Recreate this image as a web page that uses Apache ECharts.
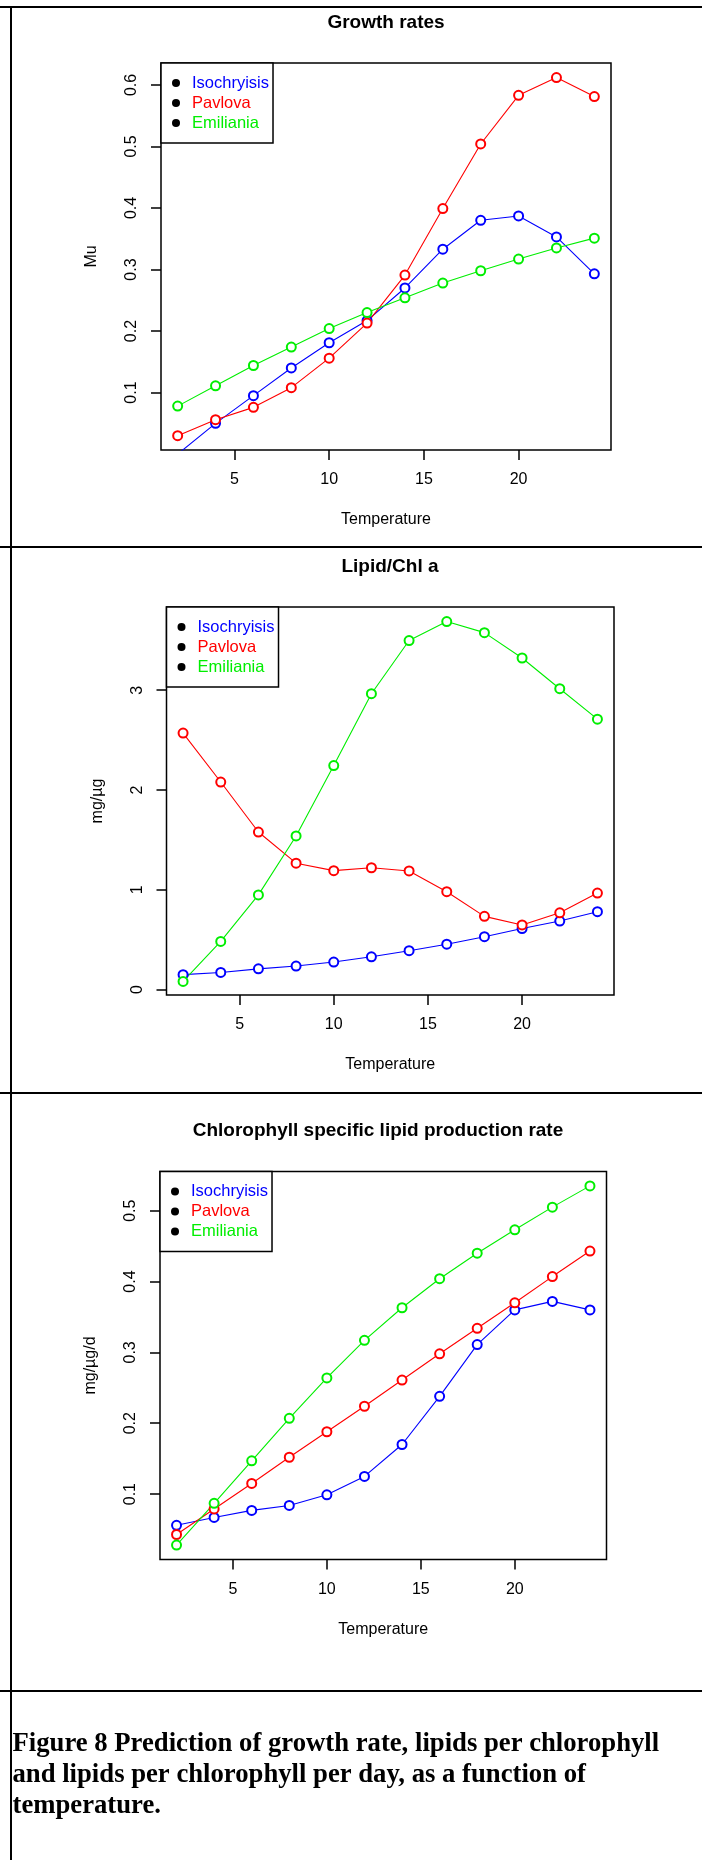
<!DOCTYPE html>
<html>
<head>
<meta charset="utf-8">
<script src="https://cdn.jsdelivr.net/npm/echarts@6/dist/echarts.min.js"></script>
<style>
  body { margin: 0; background: #fff; }
  #chart { width: 702px; height: 1860px; }
</style>
</head>
<body>
<div id="chart"></div>
<script>
// temperatures (x) shared by all three panels
var temperature = [2, 4, 6, 8, 10, 12, 14, 16, 18, 20, 22, 24];
var speciesNames = ['Isochryisis', 'Pavlova', 'Emiliania'];
var speciesColors = ['#0000ff', '#ff0000', '#00ee00'];

// panel 1 : growth rates (Mu)
var growthIso = [0.000, 0.050, 0.095, 0.140, 0.181, 0.217, 0.270, 0.333, 0.380, 0.387, 0.353, 0.293];
var growthPav = [0.030, 0.056, 0.076, 0.108, 0.156, 0.213, 0.291, 0.399, 0.504, 0.583, 0.612, 0.581];
var growthEmi = [0.078, 0.111, 0.144, 0.174, 0.204, 0.230, 0.254, 0.278, 0.298, 0.317, 0.335, 0.351];

// panel 2 : lipid / chl a (mg/µg)
var lipidIso = [0.150, 0.172, 0.208, 0.236, 0.276, 0.329, 0.390, 0.455, 0.530, 0.612, 0.687, 0.781];
var lipidPav = [2.571, 2.080, 1.579, 1.267, 1.192, 1.221, 1.189, 0.981, 0.734, 0.648, 0.770, 0.967];
var lipidEmi = [0.082, 0.483, 0.949, 1.540, 2.245, 2.965, 3.498, 3.688, 3.577, 3.323, 3.015, 2.710];

// panel 3 : chlorophyll specific lipid production (mg/µg/d)
var prodIso = [0.056, 0.067, 0.077, 0.084, 0.099, 0.125, 0.170, 0.238, 0.311, 0.360, 0.372, 0.360];
var prodPav = [0.043, 0.079, 0.115, 0.152, 0.188, 0.224, 0.261, 0.298, 0.334, 0.370, 0.407, 0.443];
var prodEmi = [0.028, 0.087, 0.147, 0.207, 0.264, 0.317, 0.363, 0.404, 0.440, 0.473, 0.505, 0.535];

// tick labels
var xTicks = [5, 10, 15, 20];
var growthTicks = [0.1, 0.2, 0.3, 0.4, 0.5, 0.6];
var lipidTicks = [0, 1, 2, 3];
var prodTicks = [0.1, 0.2, 0.3, 0.4, 0.5];

var panels = [
    { title: 'Growth rates', yName: 'Mu', ticks: growthTicks, ymin: 0.0067, ymax: 0.6356,
      series: [growthIso, growthPav, growthEmi],
      grid: { left: 161, top: 63, width: 450, height: 387 }, titleX: 386, titleY: 23 },
    { title: 'Lipid/Chl a', yName: 'mg/\u00b5g', ticks: lipidTicks, ymin: -0.054, ymax: 3.834,
      series: [lipidIso, lipidPav, lipidEmi],
      grid: { left: 166.5, top: 607, width: 447.5, height: 388 }, titleX: 390, titleY: 567 },
    { title: 'Chlorophyll specific lipid production rate', yName: 'mg/\u00b5g/d', ticks: prodTicks, ymin: 0.0077, ymax: 0.5553,
      series: [prodIso, prodPav, prodEmi],
      grid: { left: 160, top: 1171.5, width: 446.5, height: 388 }, titleX: 378, titleY: 1131 }
];

var FONT = '"Liberation Sans", Arial, sans-serif';
var grids = [], xAxes = [], yAxes = [], legends = [], series = [], graphics = [];

panels.forEach(function (p, k) {
    grids.push({
        left: p.grid.left, top: p.grid.top, width: p.grid.width, height: p.grid.height,
        show: true, borderColor: '#000', borderWidth: 1.5, backgroundColor: 'transparent',
        containLabel: false, outerBoundsMode: 'none'
    });
    xAxes.push({
        gridIndex: k, type: 'value', min: 1.12, max: 24.88,
        axisLine: { show: false, onZero: false },
        axisTick: { show: true, customValues: xTicks, length: 10, lineStyle: { color: '#000', width: 1.5 } },
        axisLabel: { customValues: xTicks, margin: 22, fontSize: 16, color: '#000', fontFamily: FONT },
        splitLine: { show: false },
        name: 'Temperature', nameLocation: 'middle', nameGap: 62,
        nameTextStyle: { fontSize: 16, color: '#000', fontFamily: FONT }
    });
    yAxes.push({
        gridIndex: k, type: 'value', min: p.ymin, max: p.ymax,
        axisLine: { show: false, onZero: false },
        axisTick: { show: true, customValues: p.ticks, length: 10, lineStyle: { color: '#000', width: 1.5 } },
        axisLabel: { customValues: p.ticks, rotate: 90, margin: 21, fontSize: 16, color: '#000', fontFamily: FONT,
                     formatter: function (v) { return String(v); } },
        splitLine: { show: false },
        name: p.yName, nameLocation: 'middle', nameGap: 61,
        nameTextStyle: { fontSize: 16, color: '#000', fontFamily: FONT }
    });
    legends.push({
        left: p.grid.left, top: p.grid.top, orient: 'vertical',
        backgroundColor: '#fff', borderColor: '#000', borderWidth: 1.5,
        padding: [10, 4, 10, 11], itemWidth: 22, itemHeight: 8, itemGap: 0, icon: 'circle',
        textStyle: { fontSize: 16.5, lineHeight: 20, fontFamily: FONT },
        data: speciesNames.map(function (n, i) {
            return { name: n, itemStyle: { color: '#000', borderColor: '#000', borderWidth: 0 },
                     textStyle: { color: speciesColors[i] } };
        })
    });
    p.series.forEach(function (vals, i) {
        series.push({
            name: speciesNames[i], type: 'line', xAxisIndex: k, yAxisIndex: k,
            data: temperature.map(function (t, j) { return [t, vals[j]]; }),
            symbol: 'emptyCircle', symbolSize: 9, clip: true,
            lineStyle: { color: speciesColors[i], width: 1.1 },
            itemStyle: { color: speciesColors[i], borderWidth: 1.2 },
            emphasis: { disabled: true }
        });
    });
    graphics.push({
        type: 'text', x: p.titleX, y: p.titleY,
        style: { text: p.title, align: 'center', verticalAlign: 'middle',
                 font: 'bold 19px ' + FONT, fill: '#000' }
    });
});

// table borders around the three figures and the caption
[7, 547, 1093, 1691].forEach(function (y) {
    graphics.push({ type: 'line', shape: { x1: 0, y1: y, x2: 702, y2: y }, style: { stroke: '#000', lineWidth: 2 } });
});
graphics.push({ type: 'line', shape: { x1: 11, y1: 6, x2: 11, y2: 1860 }, style: { stroke: '#000', lineWidth: 2 } });

graphics.push({
    type: 'text', x: 12.5, y: 1729,
    style: {
        text: 'Figure 8 Prediction of growth rate, lipids per chlorophyll\nand lipids per chlorophyll per day, as a function of\ntemperature.',
        font: 'bold 26.7px "Liberation Serif", "Times New Roman", serif', lineHeight: 31,
        fill: '#000', align: 'left', verticalAlign: 'top'
    }
});

var myChart = echarts.init(document.getElementById('chart'));
myChart.setOption({
    animation: false,
    backgroundColor: '#fff',
    textStyle: { fontFamily: FONT, color: '#000' },
    grid: grids,
    xAxis: xAxes,
    yAxis: yAxes,
    legend: legends,
    series: series,
    graphic: graphics
});
</script>
</body>
</html>
